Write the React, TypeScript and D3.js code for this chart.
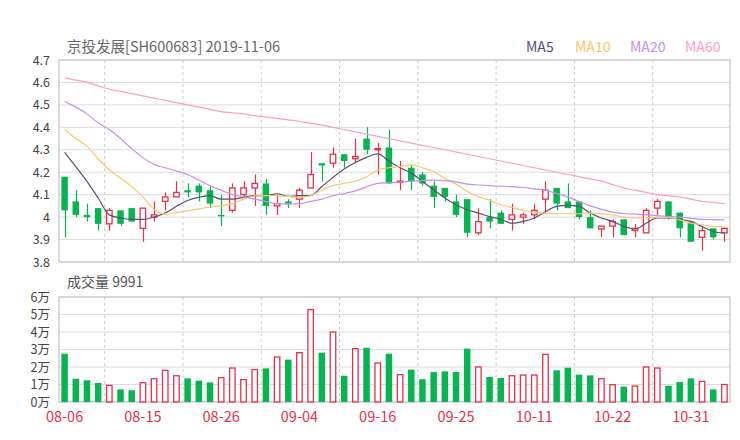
import React from 'react';
import * as d3 from 'd3';

// daily candles, 2019-08-06 .. 2019-11-05
const dates = [
  '08-06', '08-07', '08-08', '08-09', '08-12', '08-13', '08-14', '08-15', '08-16', '08-19',
  '08-20', '08-21', '08-22', '08-23', '08-26', '08-27', '08-28', '08-29', '08-30', '09-02',
  '09-03', '09-04', '09-05', '09-06', '09-09', '09-10', '09-11', '09-12', '09-16', '09-17',
  '09-18', '09-19', '09-20', '09-23', '09-24', '09-25', '09-26', '09-27', '09-30', '10-08',
  '10-09', '10-10', '10-11', '10-14', '10-15', '10-16', '10-17', '10-18', '10-21', '10-22',
  '10-23', '10-24', '10-25', '10-28', '10-29', '10-30', '10-31', '11-01', '11-04', '11-05',
];
const opens = [
  4.18, 4.07, 4.01, 4.04, 3.97, 4.03, 4.04, 3.95, 4.0, 4.07,
  4.09, 4.12, 4.14, 4.12, 4.01, 4.03, 4.1, 4.13, 4.15, 4.05,
  4.07, 4.08, 4.13, 4.24, 4.24, 4.28, 4.26, 4.35, 4.3, 4.31,
  4.155, 4.22, 4.19, 4.14, 4.13, 4.07, 4.08, 3.93, 4.0, 4.02,
  3.99, 4.0, 4.01, 4.08, 4.13, 4.07, 4.07, 4.0, 3.947, 3.96,
  3.99, 3.94, 3.93, 4.04, 4.07, 4.02, 3.98, 3.91, 3.95, 3.93,
];
const closes = [
  4.03, 4.01, 4.0, 3.97, 4.03, 3.97, 3.98, 4.04, 4.01, 4.09,
  4.11, 4.11, 4.11, 4.06, 4.01, 4.13, 4.13, 4.15, 4.05, 4.06,
  4.06, 4.12, 4.19, 4.23, 4.28, 4.25, 4.27, 4.3, 4.305, 4.15,
  4.16, 4.16, 4.15, 4.09, 4.09, 4.01, 3.93, 3.98, 3.98, 3.97,
  4.01, 4.01, 4.03, 4.12, 4.06, 4.04, 4.0, 3.95, 3.96, 3.98,
  3.92, 3.95, 4.03, 4.07, 4.0, 3.95, 3.89, 3.94, 3.91, 3.95,
];
const highs = [
  4.18, 4.12, 4.06, 4.04, 4.04, 4.03, 4.04, 4.04, 4.07, 4.11,
  4.16, 4.15, 4.15, 4.14, 4.1, 4.15, 4.16, 4.19, 4.17, 4.1,
  4.08, 4.13, 4.29, 4.24, 4.31, 4.28, 4.35, 4.4, 4.33, 4.39,
  4.25, 4.23, 4.2, 4.16, 4.13, 4.1, 4.08, 4.04, 4.08, 4.03,
  4.06, 4.02, 4.06, 4.16, 4.13, 4.15, 4.07, 4.03, 3.96, 3.99,
  3.99, 3.97, 4.04, 4.08, 4.07, 4.02, 3.98, 3.96, 3.95, 3.95,
];
const lows = [
  3.91, 4.0, 3.98, 3.94, 3.94, 3.96, 3.98, 3.89, 3.98, 4.03,
  4.09, 4.09, 4.07, 4.04, 3.96, 4.02, 4.09, 4.05, 4.01, 4.01,
  4.04, 4.04, 4.13, 4.16, 4.22, 4.22, 4.24, 4.28, 4.19, 4.15,
  4.12, 4.12, 4.14, 4.04, 4.07, 4.0, 3.91, 3.92, 3.95, 3.97,
  3.94, 3.97, 3.99, 4.02, 4.03, 4.04, 3.99, 3.95, 3.91, 3.91,
  3.92, 3.91, 3.93, 4.01, 3.99, 3.91, 3.89, 3.85, 3.9, 3.89,
];
// volume in lots
const volumes = [
  27600, 13300, 12400, 10900, 9500, 7200, 6700, 11000, 13300, 18100,
  15000, 13500, 12200, 11200, 13900, 19400, 12800, 18500, 19200, 25700,
  24200, 28200, 52800, 28200, 40000, 15000, 30500, 31000, 22300, 27600,
  15600, 18500, 13000, 17100, 17500, 17100, 30500, 20000, 14300, 13700,
  15000, 15400, 15400, 27200, 18100, 19600, 15600, 15200, 13300, 9900,
  8800, 9100, 20000, 19400, 9300, 11400, 13500, 11800, 7200, 9991,
];
const ma5 = [
  4.289, 4.225, 4.159, 4.085, 4.01, 3.996, 3.99, 3.99, 4.0, 4.018,
  4.048, 4.074, 4.088, 4.096, 4.08, 4.08, 4.088, 4.096, 4.096, 4.104,
  4.092, 4.096, 4.096, 4.136, 4.177, 4.214, 4.243, 4.266, 4.282, 4.25,
  4.22, 4.196, 4.159, 4.122, 4.085, 4.055, 4.033, 4.018, 4.002, 3.99,
  3.973, 3.981, 3.996, 4.025, 4.048, 4.052, 4.048, 4.018, 3.996, 3.981,
  3.959, 3.947, 3.973, 3.996, 3.996, 3.99, 3.981, 3.958, 3.936, 3.929,
];
const ma10 = [
  4.39, 4.35, 4.315, 4.26, 4.21, 4.175, 4.137, 4.09, 4.035, 4.013,
  4.02, 4.028, 4.037, 4.045, 4.05, 4.06, 4.08, 4.095, 4.096, 4.096,
  4.092, 4.088, 4.096, 4.12, 4.14, 4.15, 4.16, 4.18, 4.21, 4.22,
  4.225, 4.233, 4.22, 4.203, 4.173, 4.147, 4.114, 4.092, 4.075, 4.055,
  4.043, 4.03, 4.02, 4.018, 4.015, 4.015, 4.015, 4.018, 4.015, 4.01,
  4.0, 3.996, 3.996, 3.999, 3.999, 3.988, 3.973, 3.966, 3.958, 3.958,
];
const ma20 = [
  4.515, 4.49, 4.46, 4.42, 4.39, 4.35, 4.305, 4.265, 4.235, 4.22,
  4.205, 4.19, 4.165, 4.14, 4.12, 4.1, 4.09, 4.08, 4.07, 4.06,
  4.058, 4.06, 4.07, 4.08, 4.095, 4.105, 4.117, 4.135, 4.15, 4.153,
  4.156, 4.16, 4.163, 4.165, 4.163, 4.157, 4.147, 4.143, 4.14, 4.138,
  4.136, 4.132, 4.126, 4.12, 4.105, 4.09, 4.07, 4.05, 4.035, 4.022,
  4.016, 4.013, 4.01, 4.007, 4.003, 4.0, 3.995, 3.99, 3.989, 3.988,
];
const ma60 = [
  4.62, 4.61, 4.6, 4.585, 4.57, 4.56, 4.55, 4.54, 4.53, 4.52,
  4.51, 4.5, 4.49, 4.48, 4.47, 4.465, 4.46, 4.452, 4.446, 4.44,
  4.433, 4.426, 4.418, 4.41, 4.4, 4.39, 4.38, 4.37, 4.36, 4.35,
  4.34, 4.33, 4.32, 4.31, 4.3, 4.29, 4.28, 4.27, 4.26, 4.25,
  4.24, 4.23, 4.22, 4.21, 4.2, 4.19, 4.18, 4.17, 4.16, 4.145,
  4.13, 4.12, 4.11, 4.1, 4.095, 4.09, 4.08, 4.07, 4.065, 4.06,
];
const priceTicks = [3.8, 3.9, 4.0, 4.1, 4.2, 4.3, 4.4, 4.5, 4.6, 4.7];
const volumeTicks = [0, 1, 2, 3, 4, 5, 6]; // 万

const RED = '#e8304a';
const GREEN = '#05b54f';
const FONT = '"Noto Sans CJK SC", "Noto Sans", sans-serif';
const maSeries = [
  { name: 'MA5', values: ma5, color: '#555173', lx: 526 },
  { name: 'MA10', values: ma10, color: '#fbc66e', lx: 575 },
  { name: 'MA20', values: ma20, color: '#c390ea', lx: 630 },
  { name: 'MA60', values: ma60, color: '#ff9ccc', lx: 685 },
];

export default function App() {
  const left = 59;
  const right = 730;
  const pTop = 60;
  const pBottom = 262;
  const vTop = 297;
  const vBottom = 402;

  const idx = d3.range(dates.length);
  const x = d3.scaleBand<number>().domain(idx).range([left, right]).paddingInner(0.42).paddingOuter(0.21);
  const step = x.step();
  const cx = (i: number) => (x(i) as number) + x.bandwidth() / 2;
  const y = d3.scaleLinear().domain([3.8, 4.7]).range([pBottom, pTop]);
  const yv = d3.scaleLinear().domain([0, 6]).range([vBottom, vTop]);

  const fmtPrice = (v: number) => String(+v.toFixed(1));
  const line = d3.line<number>().x((_, i) => cx(i)).y((d) => y(d)).curve(d3.curveMonotoneX);

  // vertical dashed grid every 7 sessions
  const vGrid = idx.filter((i) => i >= 4 && (i - 4) % 7 === 0).map((i) => left + i * step + 1);
  const labelIdx = idx.filter((i) => i % 7 === 0);

  const candleUp = (i: number) => {
    if (closes[i] !== opens[i]) return closes[i] > opens[i];
    return i > 0 ? closes[i] >= closes[i - 1] : true;
  };

  return (
    <svg
      width={740}
      height={440}
      style={{ position: 'absolute', left: 0, top: 0, background: '#fff' }}
      fontFamily={FONT}
    >
      {/* titles */}
      <text x={67} y={52} fontSize={14.5} fill="#666">京投发展[SH600683] 2019-11-06</text>
      {maSeries.map((m) => (
        <text key={m.name} x={m.lx} y={52} fontSize={14} fill={m.color}>{m.name}</text>
      ))}

      {/* price grid */}
      {priceTicks.map((t) => (
        <g key={t}>
          <line x1={left} x2={right} y1={y(t)} y2={y(t)} stroke="#dcdcdc" />
          <text x={50} y={y(t)} dy="0.36em" textAnchor="end" fontSize={12.5} fill="#444">{fmtPrice(t)}</text>
        </g>
      ))}
      {vGrid.map((gx) => (
        <line key={'p' + gx} x1={gx} x2={gx} y1={pTop} y2={pBottom} stroke="#ccc" strokeDasharray="3,3" />
      ))}
      <rect x={left} y={pTop} width={right - left} height={pBottom - pTop} fill="none" stroke="#d0d0d0" strokeWidth={1.5} />

      {/* candles */}
      {idx.map((i) => {
        const up = candleUp(i);
        const c = up ? RED : GREEN;
        const top = y(Math.max(opens[i], closes[i]));
        const bot = y(Math.min(opens[i], closes[i]));
        const bx = x(i) as number;
        const bw = x.bandwidth();
        const xm = Math.round(cx(i)) + 0.5;
        return (
          <g key={i}>
            <line x1={xm} x2={xm} y1={y(highs[i])} y2={y(lows[i])} stroke={c} strokeWidth={1.2} />
            {up ? (
              <rect x={bx + 0.5} y={top} width={bw - 1} height={Math.max(bot - top, 1)} fill="#fff" stroke={c} strokeWidth={1.3} />
            ) : (
              <rect x={bx} y={top} width={bw} height={Math.max(bot - top, 1.5)} fill={c} />
            )}
          </g>
        );
      })}

      {/* moving averages */}
      {maSeries.map((m) => (
        <path key={m.name} d={line(m.values) as string} fill="none" stroke={m.color} strokeWidth={1.2} />
      ))}

      {/* volume panel */}
      <text x={67} y={287} fontSize={14} fill="#555">成交量 {volumes[volumes.length - 1]}</text>
      {volumeTicks.map((t) => (
        <g key={t}>
          <line x1={left} x2={right} y1={yv(t)} y2={yv(t)} stroke="#dcdcdc" />
          <text x={50} y={yv(t)} dy="0.36em" textAnchor="end" fontSize={12.5} fill="#444">{t}万</text>
        </g>
      ))}
      {vGrid.map((gx) => (
        <line key={'v' + gx} x1={gx} x2={gx} y1={vTop} y2={vBottom} stroke="#ccc" strokeDasharray="3,3" />
      ))}
      <rect x={left} y={vTop} width={right - left} height={vBottom - vTop} fill="none" stroke="#d0d0d0" strokeWidth={1.5} />
      {idx.map((i) => {
        const up = closes[i] >= opens[i];
        const v = volumes[i] / 10000;
        const bx = x(i) as number;
        const bw = x.bandwidth();
        return up ? (
          <rect key={i} x={bx + 0.5} y={yv(v)} width={bw - 1} height={yv(0) - yv(v)} fill="#fff" stroke={RED} strokeWidth={1.3} />
        ) : (
          <rect key={i} x={bx} y={yv(v)} width={bw} height={yv(0) - yv(v)} fill={GREEN} />
        );
      })}

      {/* date labels */}
      {labelIdx.map((i) => (
        <text key={i} x={cx(i)} y={422} textAnchor="middle" fontSize={14.5} fill={RED}>{dates[i]}</text>
      ))}
    </svg>
  );
}
